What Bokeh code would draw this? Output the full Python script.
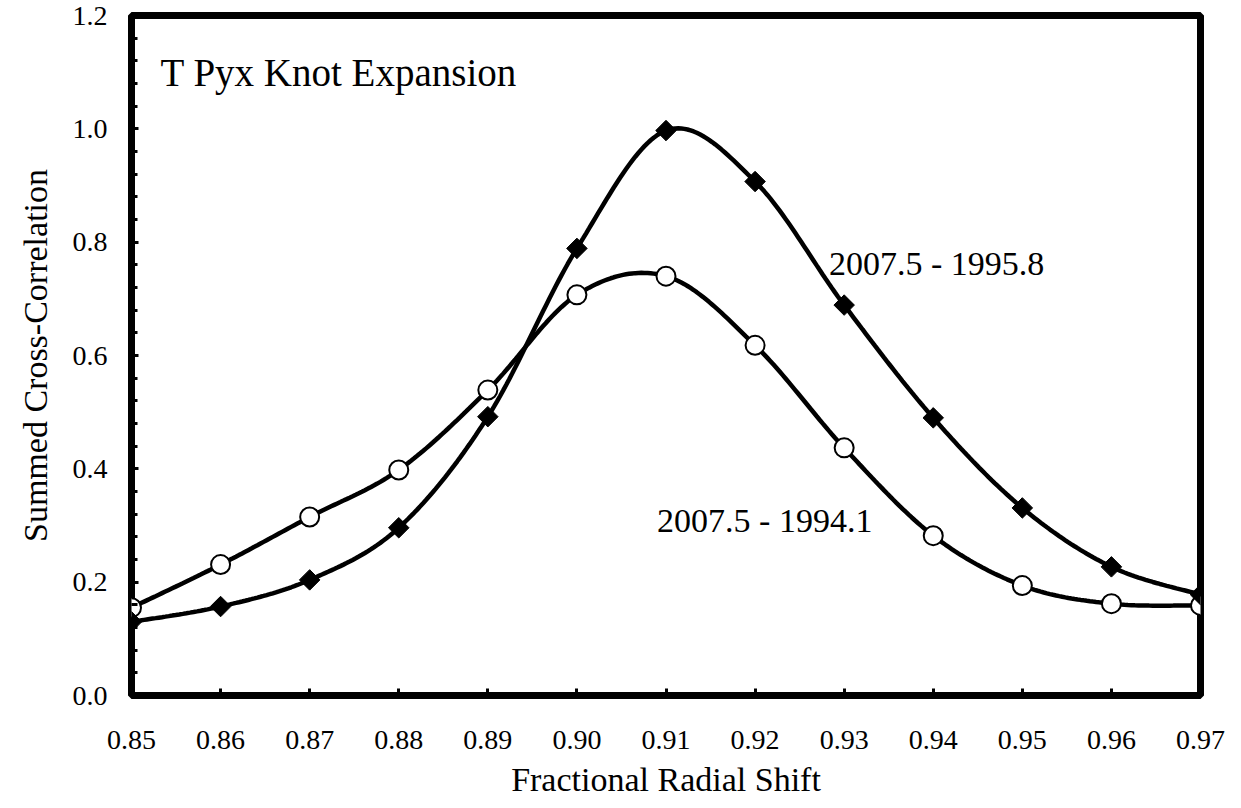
import numpy as np
from bokeh.plotting import figure
from bokeh.models import Range1d, FixedTicker, Label
from bokeh.embed import file_html
from bokeh.resources import INLINE

# ---- data ----
shift = [0.85, 0.86, 0.87, 0.88, 0.89, 0.90, 0.91, 0.92, 0.93, 0.94, 0.95, 0.96, 0.97]
corr_1995 = [0.130, 0.157, 0.204, 0.296, 0.492, 0.789, 0.997, 0.907, 0.689, 0.490, 0.331, 0.227, 0.178]
corr_1994 = [0.155, 0.231, 0.315, 0.398, 0.539, 0.707, 0.740, 0.618, 0.437, 0.282, 0.194, 0.162, 0.159]
x_ticks = [0.85, 0.86, 0.87, 0.88, 0.89, 0.90, 0.91, 0.92, 0.93, 0.94, 0.95, 0.96, 0.97]
y_ticks = [0.0, 0.2, 0.4, 0.6, 0.8, 1.0, 1.2]
y_minor = [round(0.04 * i, 2) for i in range(31)]

FONT = "Liberation Serif"


def smooth(xs, ys, n=30):
    """Catmull-Rom style Bezier smoothing through the given points (like Excel's smoothed line)."""
    xs = np.asarray(xs, float)
    ys = np.asarray(ys, float)
    px = np.concatenate([[xs[0]], xs, [xs[-1]]])
    py = np.concatenate([[ys[0]], ys, [ys[-1]]])
    ox, oy = [], []
    t = np.linspace(0, 1, n)
    for i in range(1, len(px) - 2):
        p0 = np.array([px[i], py[i]])
        p3 = np.array([px[i + 1], py[i + 1]])
        c1 = p0 + (np.array([px[i + 1], py[i + 1]]) - np.array([px[i - 1], py[i - 1]])) / 6.0
        c2 = p3 - (np.array([px[i + 2], py[i + 2]]) - np.array([px[i], py[i]])) / 6.0
        b = ((1 - t) ** 3)[:, None] * p0 + (3 * (1 - t) ** 2 * t)[:, None] * c1 \
            + (3 * (1 - t) * t ** 2)[:, None] * c2 + (t ** 3)[:, None] * p3
        ox.extend(b[:, 0])
        oy.extend(b[:, 1])
    return ox, oy


p = figure(width=1233, height=800, output_backend="svg", toolbar_location=None,
           x_range=Range1d(0.85, 0.97), y_range=Range1d(0.0, 1.2),
           min_border_left=131, min_border_right=33, min_border_top=15, min_border_bottom=104)
p.background_fill_color = "white"
p.border_fill_color = "white"
p.outline_line_color = "black"
p.outline_line_width = 7
p.xgrid.visible = False
p.ygrid.visible = False

p.xaxis.ticker = FixedTicker(ticks=x_ticks)
p.yaxis.ticker = FixedTicker(ticks=y_ticks, minor_ticks=y_minor)
p.xaxis.major_label_overrides = {t: f"{t:.2f}" for t in x_ticks}
p.yaxis.major_label_overrides = {t: f"{t:.1f}" for t in y_ticks}

for ax in (p.xaxis[0], p.yaxis[0]):
    ax.axis_line_color = None
    ax.major_tick_in = 7
    ax.major_tick_out = 0
    ax.major_tick_line_width = 3
    ax.major_tick_line_color = "black"
    ax.major_label_text_font = FONT
    ax.major_label_text_font_size = "28px"
    ax.major_label_text_color = "black"
    ax.axis_label_text_font = FONT
    ax.axis_label_text_font_size = "34px"
    ax.axis_label_text_font_style = "normal"
    ax.axis_label_text_color = "black"

p.xaxis.minor_tick_line_color = None
p.yaxis.minor_tick_in = 6
p.yaxis.minor_tick_out = 0
p.yaxis.minor_tick_line_width = 3
p.yaxis.minor_tick_line_color = "black"

p.xaxis.major_label_standoff = 35
p.yaxis.major_label_standoff = 24
p.xaxis.axis_label = "Fractional Radial Shift"
p.yaxis.axis_label = "Summed Cross-Correlation"
p.xaxis.axis_label_standoff = 9
p.yaxis.axis_label_standoff = 16

# smoothed lines
sx, sy = smooth(shift, corr_1995)
p.line(sx, sy, line_color="black", line_width=4.5)
cx, cy = smooth(shift, corr_1994)
p.line(cx, cy, line_color="black", line_width=4.5)

# markers
p.scatter(shift, corr_1994, marker="circle", size=19, fill_color="white",
          line_color="black", line_width=2)
p.scatter(shift, corr_1995, marker="square", size=14.5, angle=np.pi / 4,
          fill_color="black", line_color="black", line_width=1)

p.add_layout(Label(x=0.85326, y=1.0996, text="T Pyx Knot Expansion", text_font=FONT,
                   text_font_size="39px", text_color="black", text_baseline="alphabetic",
                   text_align="left"))
p.add_layout(Label(x=0.9283, y=0.763, text="2007.5 - 1995.8", text_font=FONT,
                   text_font_size="34px", text_color="black", text_baseline="alphabetic",
                   text_align="left"))
p.add_layout(Label(x=0.9090, y=0.308, text="2007.5 - 1994.1", text_font=FONT,
                   text_font_size="34px", text_color="black", text_baseline="alphabetic",
                   text_align="left"))

open("out.html", "w").write(file_html(p, INLINE))
